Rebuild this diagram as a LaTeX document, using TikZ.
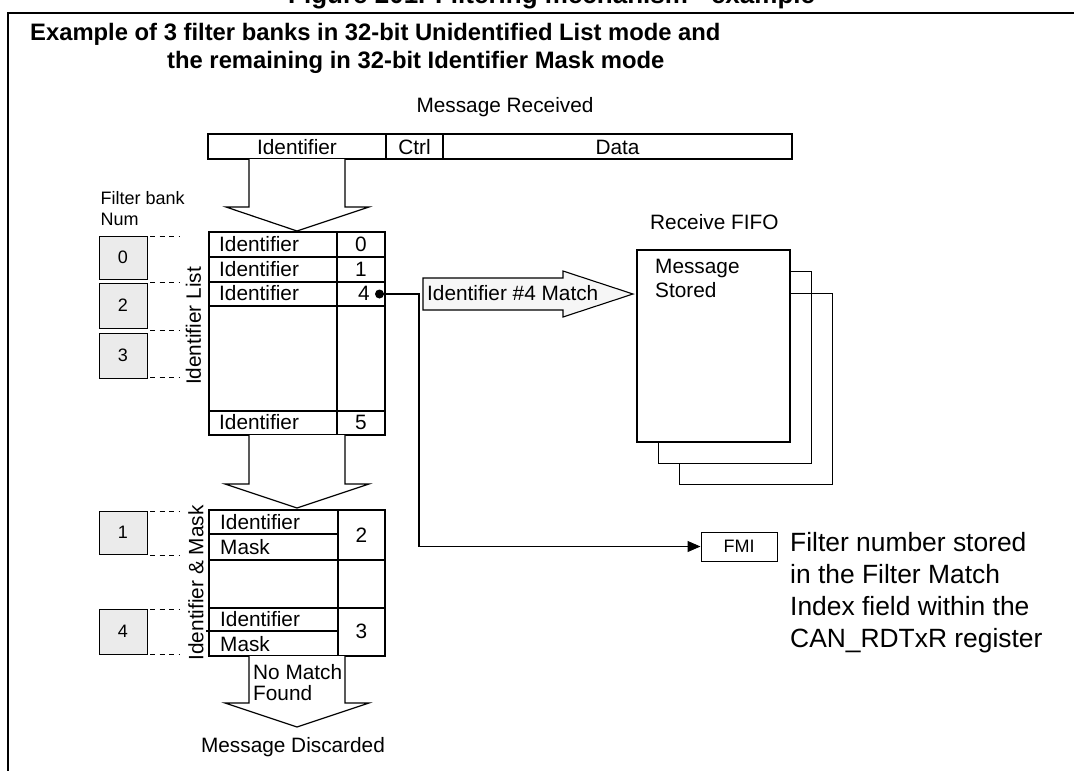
\documentclass[tikz,border=0pt]{standalone}
\usepackage{fontspec}
\setmainfont{Liberation Sans}
\usetikzlibrary{arrows.meta}
\newcommand\myfs[1]{\fontsize{#1}{#1}\selectfont}
\begin{document}
\begin{tikzpicture}[x=1pt,y=-1pt,
  tbl/.style={line width=1.8pt},
  gbox/.style={draw, line width=0.7pt, fill=gray!16, minimum width=48pt, minimum height=44pt, inner sep=0pt, font=\myfs{18}},
  dashln/.style={line width=0.7pt, dash pattern=on 5pt off 4.5pt},
  blockarrow/.style={line width=1.2pt, fill=white, line join=miter},
  lbl/.style={inner sep=0pt, font=\myfs{20.8}},
  small/.style={inner sep=0pt, font=\myfs{18}},
  ttl/.style={inner sep=0pt, font=\bfseries\myfs{23.8}},
  note/.style={inner sep=0pt, font=\myfs{26.4}},
  stack/.style={line width=1pt}]
\clip (0,0) rectangle (1074,771);
\fill[white] (0,0) rectangle (1074,771);
% frame
\draw[line width=2pt] (7.5,771) -- (7.5,12.5) -- (1074,12.5);
\node[inner sep=0pt, anchor=base west, font=\bfseries\myfs{26}] (fig) at (288,3.5) {Figure 201. Filtering mechanism - example};
\node[ttl, anchor=base west] (t1) at (30,40) {Example of 3 filter banks in 32-bit Unidentified List mode and};
\node[ttl, anchor=base west] (t2) at (167,68) {the remaining in 32-bit Identifier Mask mode};
% message received
\node[lbl, anchor=base] (mr) at (505,112) {Message Received};
\draw[tbl, line width=1.5pt] (208,134) rectangle (792,159);
\draw[tbl, line width=1.5pt] (386,134) -- (386,159) (443,134) -- (443,159);
\node[lbl] (mid) at (297,147) {Identifier};
\node[lbl] (mctrl) at (414.5,147) {Ctrl};
\node[lbl] (mdata) at (617.5,147) {Data};
% arrow 1
\draw[blockarrow] (249,159) -- (249,207) -- (226,207) -- (297,231) -- (369,207) -- (345,207) -- (345,159);
% filter bank label
\node[small, anchor=base west] (fb1) at (100.5,204) {Filter bank};
\node[small, anchor=base west] (fb2) at (100.5,225) {Num};
% gray boxes
\node[gbox, minimum height=43pt] (b0) at (123,257.5) {0};
\node[gbox, minimum height=45pt] (b2) at (123,305.5) {2};
\node[gbox, minimum height=45pt] (b3) at (123,355.5) {3};
\node[gbox, minimum height=43pt] (b1) at (123,532.5) {1};
\node[gbox, minimum height=45pt] (b4) at (123,631.5) {4};
\foreach \yy in {236,282,330,377,511,555,609,654}
  \draw[dashln] (150,\yy) -- (179,\yy);
% identifier list table
\draw[tbl] (209,232) rectangle (385,435);
\draw[tbl] (209,257) -- (385,257) (209,282) -- (385,282) (209,306) -- (385,306) (209,411) -- (385,411);
\draw[tbl] (337,232) -- (337,435);
\node[lbl, anchor=base west] (r0) at (219,251.5) {Identifier};
\node[lbl, anchor=base west] (r1) at (219,276.5) {Identifier};
\node[lbl, anchor=base west] (r2) at (219,300.5) {Identifier};
\node[lbl, anchor=base west] (r5) at (219,429.5) {Identifier};
\node[lbl, anchor=base] (n0) at (361,251.5) {0};
\node[lbl, anchor=base] (n1) at (361,276.5) {1};
\node[lbl, anchor=base] (n4) at (364,300.5) {4};
\node[lbl, anchor=base] (n5) at (361,429.5) {5};
\node[lbl, rotate=90] (vl1) at (193.5,326) {Identifier List};
% arrow 2
\draw[blockarrow] (249,435) -- (249,484) -- (225,484) -- (297,508) -- (369,484) -- (345,484) -- (345,435);
% identifier & mask table
\draw[tbl] (209,510) rectangle (385,656);
\draw[tbl] (338,510) -- (338,656);
\draw[tbl] (209,534) -- (338,534) (209,560) -- (385,560) (209,608) -- (385,608) (206,631) -- (338,631);
\node[lbl, anchor=base west] (m1) at (220,529.5) {Identifier};
\node[lbl, anchor=base west] (m2) at (220,554.5) {Mask};
\node[lbl, anchor=base west] (m3) at (220,626) {Identifier};
\node[lbl, anchor=base west] (m4) at (220,651) {Mask};
\node[lbl, anchor=base] (n2) at (361.5,542.5) {2};
\node[lbl, anchor=base] (n3) at (361.5,638.5) {3};
\node[lbl, rotate=90] (vl2) at (196,583) {Identifier \& Mask};
% arrow 3
\draw[blockarrow] (249,656) -- (249,703) -- (225,703) -- (297,727) -- (369,703) -- (345,703) -- (345,656);
\node[lbl, anchor=base west] (nm1) at (253,679) {No Match};
\node[lbl, anchor=base west] (nm2) at (253,700) {Found};
\node[lbl, anchor=base] (md) at (293,752) {Message Discarded};
% match arrow
\draw[line width=1.1pt, fill=gray!7, line join=miter] (423,278) -- (563,278) -- (563,271) -- (633,294) -- (563,317) -- (563,310) -- (423,310) -- cycle;
\node[lbl, anchor=base west] (match) at (427,300) {Identifier \#4 Match};
% receive fifo
\node[lbl, anchor=base west] (rf) at (650,229) {Receive FIFO};
\draw[stack] (790,293) -- (832,293) -- (832,484) -- (679,484) -- (679,463);
\draw[stack] (790,271) -- (811,271) -- (811,463) -- (658,463) -- (658,442);
\draw[line width=2pt, fill=white] (637,250) rectangle (790,442);
\node[lbl, anchor=base west] (ms1) at (655,273) {Message};
\node[lbl, anchor=base west] (ms2) at (655,297) {Stored};
% FMI
\node[draw, line width=1pt, minimum width=76pt, minimum height=29pt, inner sep=0pt, font=\myfs{18}] (fmi) at (739,546.5) {FMI};
\node[circle, fill, inner sep=0pt, minimum size=9pt] (dot) at (379.5,294) {};
\coordinate (bend) at (419,294);
\draw[line width=1.1pt, -{Triangle[length=13pt,width=11pt]}] (dot.center) -- (bend) |- (fmi.west);
\node[note, anchor=base west] (fn1) at (790,551) {Filter number stored};
\node[note, anchor=base west] (fn2) at (790,583) {in the Filter Match};
\node[note, anchor=base west] (fn3) at (790,615) {Index field within the};
\node[note, anchor=base west] (fn4) at (790,647) {CAN\_RDTxR register};
\end{tikzpicture}
\end{document}
